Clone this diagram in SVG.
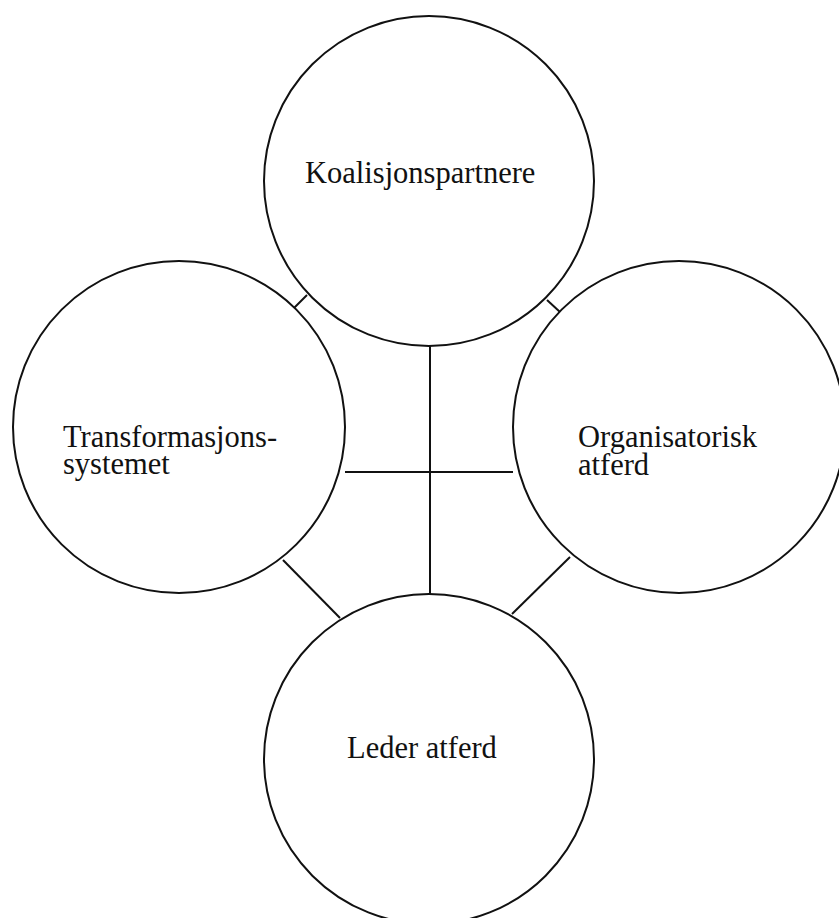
<svg xmlns="http://www.w3.org/2000/svg" width="839" height="918" viewBox="0 0 839 918">
<style>
.node circle{fill:#fff;stroke:#111;stroke-width:2}
.node text{font-family:"Liberation Serif","Times New Roman",serif;font-size:30.5px;fill:#111}
#connectors line{stroke:#111;stroke-width:2}
</style>
<rect width="839" height="918" fill="#fff"/>
<g id="connectors">
<line x1="430" y1="346" x2="430" y2="594"/>
<line x1="345" y1="472" x2="513" y2="472"/>
<line x1="294" y1="308" x2="307" y2="295"/>
<line x1="547" y1="300" x2="560" y2="312"/>
<line x1="283" y1="560" x2="340" y2="618"/>
<line x1="570" y1="557" x2="512" y2="614"/>
</g>
<g id="koalisjonspartnere" class="node">
<circle cx="429" cy="181" r="165"/>
<text x="305" y="183">Koalisjonspartnere</text>
</g>
<g id="transformasjonssystemet" class="node">
<circle cx="179" cy="427" r="166"/>
<text x="63" y="447">Transformasjons-</text>
<text x="63" y="474">systemet</text>
</g>
<g id="organisatorisk-atferd" class="node">
<circle cx="679" cy="427" r="166"/>
<text x="578" y="447">Organisatorisk</text>
<text x="578" y="475">atferd</text>
</g>
<g id="leder-atferd" class="node">
<circle cx="429" cy="759" r="165"/>
<text x="347" y="758">Leder atferd</text>
</g>
</svg>
